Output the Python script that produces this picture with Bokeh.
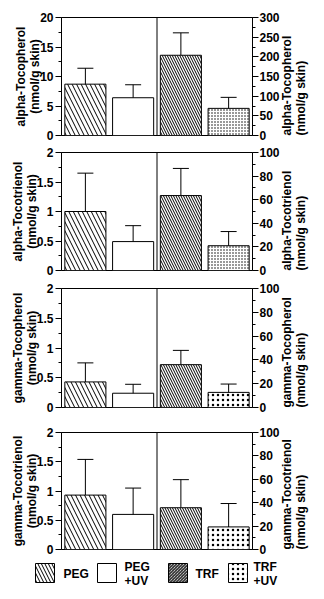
import math
from bokeh.plotting import figure
from bokeh.models import (ColumnDataSource, FactorRange, Range1d, LinearAxis, FixedTicker,
                          Whisker, TeeHead, Span)
from bokeh.layouts import column
from bokeh.core.properties import value
from bokeh.embed import file_html
from bokeh.resources import INLINE

groups = ["PEG", "PEG+UV", "TRF", "TRF+UV"]
legend_labels = ["PEG", "PEG\n+UV", "TRF", "TRF\n+UV"]

titles = ["alpha-Tocopherol", "alpha-Tocotrienol", "gamma-Tocopherol", "gamma-Tocotrienol"]

alpha_tocopherol = [8.7, 6.4, 204, 69]
alpha_tocopherol_err = [2.7, 2.2, 57, 28]
alpha_tocotrienol = [1.0, 0.49, 63.5, 21]
alpha_tocotrienol_err = [0.65, 0.27, 23, 12]
gamma_tocopherol = [0.43, 0.24, 36, 12.7]
gamma_tocopherol_err = [0.32, 0.15, 12, 7]
gamma_tocotrienol = [0.93, 0.6, 35.7, 19.3]
gamma_tocotrienol_err = [0.61, 0.45, 24, 20]

left_max = [20, 2, 2, 2]
left_ticks = [[0, 5, 10, 15, 20], [0, 0.5, 1, 1.5, 2], [0, 0.5, 1, 1.5, 2], [0, 0.5, 1, 1.5, 2]]
right_max = [300, 100, 100, 100]
right_ticks = [[0, 50, 100, 150, 200, 250, 300], [0, 20, 40, 60, 80, 100],
               [0, 20, 40, 60, 80, 100], [0, 20, 40, 60, 80, 100]]

values = [alpha_tocopherol, alpha_tocotrienol, gamma_tocopherol, gamma_tocotrienol]
errors = [alpha_tocopherol_err, alpha_tocotrienol_err, gamma_tocopherol_err, gamma_tocotrienol_err]

FONT = "Liberation Sans"
heights = [143, 139, 140, 134]
tops = [17, 9, 6, 10]
bottoms = [8, 12, 15, 7]

hatch_pat = ["\\", None, "\\", "."]
hatch_scl = [9, 12, 5, 3]
stipple_scale = [3, 3, 5, 5]


def fmt(t):
    return ("%g" % t)


def style_axis(ax, ticks):
    minor = [(a + b) / 2 for a, b in zip(ticks[:-1], ticks[1:])]
    ax.ticker = FixedTicker(ticks=ticks, minor_ticks=minor)
    ax.major_label_overrides = {t: fmt(t) for t in ticks}
    ax.major_tick_out = 6
    ax.major_tick_in = 0
    ax.minor_tick_out = 3
    ax.minor_tick_in = 0
    ax.axis_line_color = "black"
    ax.major_tick_line_color = "black"
    ax.minor_tick_line_color = "black"
    ax.major_label_text_font = FONT
    ax.major_label_text_font_style = "bold"
    ax.major_label_text_font_size = "12px"
    ax.major_label_text_color = "black"
    ax.major_label_standoff = 2
    ax.axis_label_text_font = FONT
    ax.axis_label_text_font_style = "bold"
    ax.axis_label_text_font_size = "12px"
    ax.axis_label_text_color = "black"
    ax.axis_label_text_line_height = 1.0


figs = []
for i in range(4):
    p = figure(width=324, height=heights[i], x_range=FactorRange(factors=groups, range_padding=0),
               y_range=Range1d(0, left_max[i]), output_backend="svg", toolbar_location=None,
               min_border_left=61, min_border_right=69, min_border_top=tops[i],
               min_border_bottom=bottoms[i])
    p.extra_y_ranges = {"right": Range1d(0, right_max[i])}
    p.xaxis.visible = False
    p.xgrid.visible = False
    p.ygrid.visible = False
    p.outline_line_color = "black"
    p.outline_line_alpha = 1
    p.background_fill_color = "white"
    p.border_fill_color = "white"
    label = titles[i] + "\n(nmol/g skin)"
    lax = p.yaxis[0]
    style_axis(lax, left_ticks[i])
    lax.axis_label = label
    lax.axis_label_standoff = -5
    rax = LinearAxis(y_range_name="right", axis_label=label)
    style_axis(rax, right_ticks[i])
    rax.major_label_standoff = 1
    rax.axis_label_orientation = math.pi / 2
    rax.axis_label_align = "start"
    rax.axis_label_standoff = 11
    p.add_layout(rax, "right")

    vals = values[i]
    errs = errors[i]
    for j, g in enumerate(groups):
        rng = "default" if j < 2 else "right"
        src = ColumnDataSource(dict(x=[g], top=[vals[j]], upper=[vals[j] + errs[j]],
                                    lower=[max(vals[j] - errs[j], 0)]))
        kw = dict(x="x", top="top", bottom=0, width=0.86, source=src, fill_color="white",
                  line_color="black", line_width=1, y_range_name=rng)
        if hatch_pat[j] is not None:
            kw.update(hatch_pattern=hatch_pat[j], hatch_color="black", hatch_weight=1,
                      hatch_scale=stipple_scale[i] if j == 3 else hatch_scl[j])
        p.vbar(**kw)
        w = Whisker(base="x", upper="upper", lower="lower", source=src, y_range_name=rng,
                    line_color="black", line_width=1,
                    upper_head=TeeHead(size=16, line_color="black", line_width=1),
                    lower_head=TeeHead(size=16, line_color="black", line_width=1))
        p.add_layout(w)
    p.add_layout(Span(location=2, dimension="height", line_color="black", line_width=1))
    figs.append(p)

# legend strip: frame spans the whole strip, so data x == page pixels
lg = figure(width=324, height=43, x_range=Range1d(0, 324), y_range=Range1d(43, 0),
            output_backend="svg", toolbar_location=None, min_border=0)
lg.axis.visible = False
lg.grid.visible = False
lg.outline_line_color = None
if "frame_align" in lg.properties():
    lg.frame_align = False
box_x = [44.5, 106.5, 177.5, 237.5]
text_x = [63, 124, 195, 253]
for j in range(4):
    kw = dict(x=[box_x[j]], y=[16.5], width=19, height=19, fill_color="white",
              line_color="black", line_width=1)
    if hatch_pat[j] is not None:
        kw.update(hatch_pattern=hatch_pat[j], hatch_color="black", hatch_weight=1,
                  hatch_scale=5 if j == 3 else (7 if j == 0 else 3))
    lg.rect(**kw)
    lg.text(x=[text_x[j]], y=[17], text=[legend_labels[j]], text_font=value(FONT),
            text_font_style="bold", text_font_size="12px", text_baseline="middle",
            text_align="left", text_color="black", text_line_height=1.0)

layout = column(column(*figs, spacing=0), lg, spacing=0)
open("out.html", "w").write(file_html(layout, INLINE))
